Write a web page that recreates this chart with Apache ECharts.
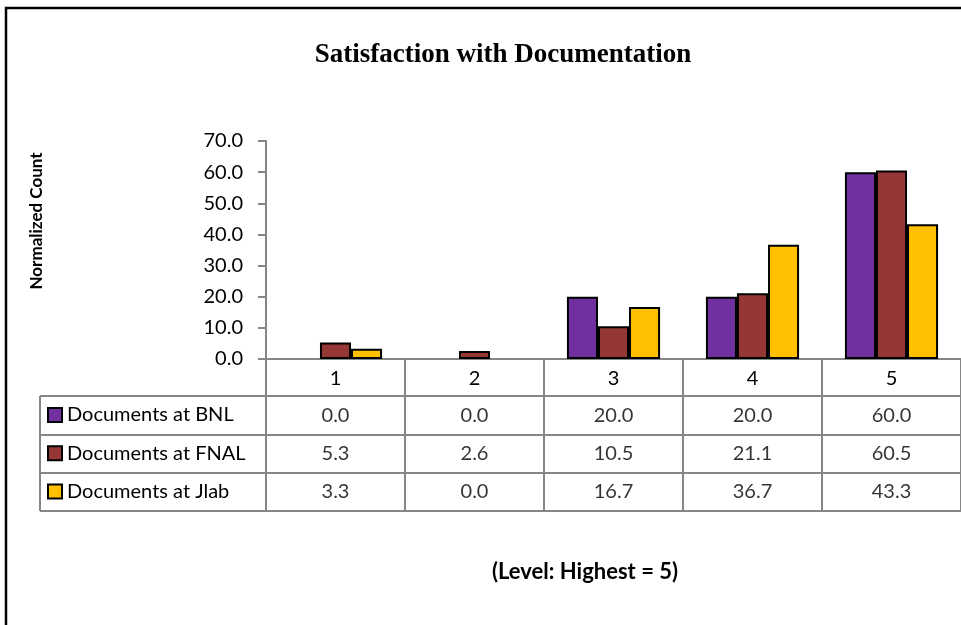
<!DOCTYPE html>
<html>
<head>
<meta charset="utf-8">
<script src="https://cdn.jsdelivr.net/npm/echarts@6/dist/echarts.min.js"></script>
<style>
html,body{margin:0;padding:0;background:#fff;}
#main{width:961px;height:625px;}
</style>
</head>
<body>
<div id="main"></div>
<script>
// ---- data ----
const categories = ['1', '2', '3', '4', '5'];
const seriesNames = ['Documents at BNL', 'Documents at FNAL', 'Documents at Jlab'];
const bnl = [0.0, 0.0, 20.0, 20.0, 60.0];
const fnal = [5.3, 2.6, 10.5, 21.1, 60.5];
const jlab = [3.3, 0.0, 16.7, 36.7, 43.3];
const yMin = 0, yMax = 70, yInterval = 10;
const titleText = 'Satisfaction with Documentation';
const yAxisTitle = 'Normalized Count';
const footnote = '(Level: Highest = 5)';

// ---- styles ----
const colors = ['#7030A0', '#953735', '#FFC000'];
const gray = '#868686';
const FONT = 'Lato';
const FS = 20;

const seriesValues = [bnl, fnal, jlab];

const chart = echarts.init(document.getElementById('main'), null, {renderer: 'canvas'});

function barData(arr) {
  return arr.map(v => v === 0 ? {value: v, itemStyle: {borderWidth: 0}} : v);
}

const barSeries = seriesNames.map((name, s) => ({
  name: name,
  type: 'bar',
  xAxisIndex: 0, yAxisIndex: 0,
  data: barData(seriesValues[s]),
  barGap: '0%',
  barCategoryGap: '33%',
  itemStyle: {color: colors[s], borderColor: '#000', borderWidth: 2},
  emphasis: {disabled: true},
  z: 2
}));

const tableSeries = seriesNames.map((name, s) => ({
  name: name + ' (table)',
  type: 'scatter',
  xAxisIndex: 1, yAxisIndex: 1,
  symbolSize: 0,
  silent: true,
  data: seriesValues[s].map((v, i) => [i, s, v]),
  label: {
    show: true, position: 'inside',
    formatter: p => p.value[2].toFixed(1),
    fontFamily: FONT, fontSize: FS, color: '#000'
  },
  emphasis: {disabled: true}
}));

const option = {
  animation: false,
  backgroundColor: '#fff',
  textStyle: {fontFamily: FONT},
  grid: [
    {left: 266, top: 141, width: 698, height: 218},
    {left: 266, top: 396, width: 698, height: 115},
    {left: 40, top: 396, width: 226, height: 115}
  ],
  legend: {
    data: seriesNames,
    orient: 'vertical',
    left: 47, top: 405,
    padding: 0,
    itemWidth: 14, itemHeight: 14,
    itemGap: 18.3,
    icon: 'rect',
    itemStyle: {borderColor: '#000', borderWidth: 2},
    textStyle: {fontFamily: FONT, fontSize: FS, color: '#000', lineHeight: 20},
    selectedMode: false
  },
  xAxis: [
    {
      type: 'category', gridIndex: 0, data: categories,
      axisLine: {show: true, lineStyle: {color: gray, width: 2}},
      axisTick: {show: true, length: 37, interval: 0, lineStyle: {color: gray, width: 2}},
      axisLabel: {show: true, interval: 0, margin: 10, fontFamily: FONT, fontSize: FS, color: '#000'},
      splitLine: {show: false}
    },
    {
      type: 'category', gridIndex: 1, data: categories,
      axisLine: {show: false}, axisTick: {show: false}, axisLabel: {show: false},
      splitLine: {show: true, interval: 0, lineStyle: {color: gray, width: 2}}
    },
    {
      type: 'category', gridIndex: 2, data: [''],
      axisLine: {show: false}, axisTick: {show: false}, axisLabel: {show: false},
      splitLine: {show: true, interval: 0, lineStyle: {color: gray, width: 2}}
    }
  ],
  yAxis: [
    {
      type: 'value', gridIndex: 0, min: yMin, max: yMax, interval: yInterval,
      axisLine: {show: true, lineStyle: {color: gray, width: 2}},
      axisTick: {show: true, length: 8, lineStyle: {color: gray, width: 2}},
      axisLabel: {margin: 23, fontFamily: FONT, fontSize: FS, color: '#000', formatter: v => v.toFixed(1)},
      splitLine: {show: false}
    },
    {
      type: 'category', gridIndex: 1, data: seriesNames, inverse: true,
      axisLine: {show: false}, axisTick: {show: false}, axisLabel: {show: false},
      splitLine: {show: true, interval: 0, lineStyle: {color: gray, width: 2}}
    },
    {
      type: 'category', gridIndex: 2, data: seriesNames, inverse: true,
      axisLine: {show: false}, axisTick: {show: false}, axisLabel: {show: false},
      splitLine: {show: true, interval: 0, lineStyle: {color: gray, width: 2}}
    }
  ],
  graphic: [
    {type: 'rect', shape: {x: 6, y: 8, width: 1000, height: 1000}, style: {fill: 'none', stroke: '#000', lineWidth: 2.5}, silent: true, z: 100},
    {type: 'text', x: 503, y: 55, style: {text: titleText, font: 'bold 27px "Liberation Serif"', fill: '#000', align: 'center', verticalAlign: 'middle'}},
    {type: 'text', x: 37, y: 221, rotation: Math.PI / 2, style: {text: yAxisTitle, font: 'bold 17px ' + FONT, fill: '#000', align: 'center', verticalAlign: 'middle'}},
    {type: 'text', x: 585, y: 572, style: {text: footnote, font: 'bold 22px ' + FONT, fill: '#000', align: 'center', verticalAlign: 'middle'}}
  ],
  series: barSeries.concat(tableSeries)
};

chart.setOption(option);
</script>
</body>
</html>
